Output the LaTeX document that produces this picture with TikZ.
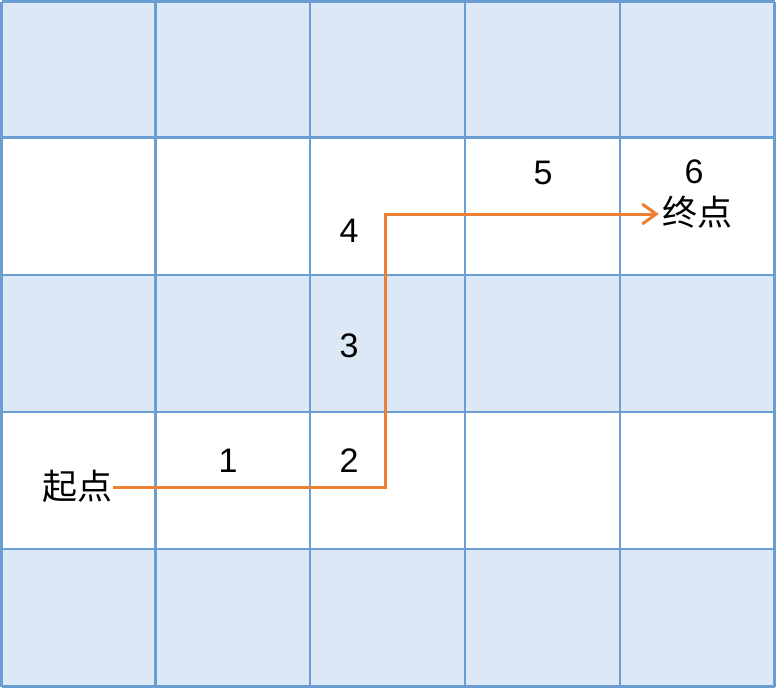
\documentclass[tikz,border=0pt]{standalone}
\usepackage{fontspec}
\setmainfont{Liberation Sans}
\newfontfamily\cjk{Noto Sans CJK SC}
\usetikzlibrary{arrows.meta}
\definecolor{gridline}{HTML}{6A9DD2}
\definecolor{cellfill}{HTML}{DCE8F5}
\definecolor{pathcol}{HTML}{EC8035}
\tikzset{
  num/.style={inner sep=0pt, anchor=base, font=\fontsize{34}{40}\selectfont},
  cn/.style={inner sep=0pt, anchor=base, font=\cjk\fontsize{35}{40}\selectfont},
  route/.style={draw=pathcol, line width=3pt, line join=miter},
  gridl/.style={draw=gridline, line width=2.5pt},
}
\begin{document}
\begin{tikzpicture}[x=1pt,y=-1pt]
\useasboundingbox (0,0) rectangle (776,688);
\fill[white] (0,0) rectangle (776,688);
% shaded rows
\foreach \ya/\yb in {1.5/137.5, 275/412, 549/686.5}
  \fill[cellfill] (1.5,\ya) rectangle (774.5,\yb);
% grid
\foreach \x in {1.5,155.5,310,465,620,774.5}
  \draw[gridl] (\x,1.5) -- (\x,686.5);
\foreach \y in {1.5,137.5,275,412,549,686.5}
  \draw[gridl] (1.5,\y) -- (774.5,\y);
% labels
\node[num] (n1) at (228,472) {1};
\node[num] (n2) at (349,472) {2};
\node[num] (n3) at (349,357) {3};
\node[num] (n4) at (349,242) {4};
\node[num] (n5) at (543,184) {5};
\node[num] (n6) at (694,183) {6};
\node[cn] (start) at (77,499) {起点};
\node[cn] (goal) at (697,225) {终点};
% route
\coordinate (s0) at (start.east |- 0,487);
\coordinate (c1) at (385,487);
\coordinate (c2) at (385,214);
\coordinate (e0) at (c2 -| goal.west);
\draw[route, -{Straight Barb[length=14pt,width=20pt,line width=3pt]}]
  ([xshift=1pt]s0) -- (c1) -- (c2) -- ([xshift=-3pt]e0);
\end{tikzpicture}
\end{document}
